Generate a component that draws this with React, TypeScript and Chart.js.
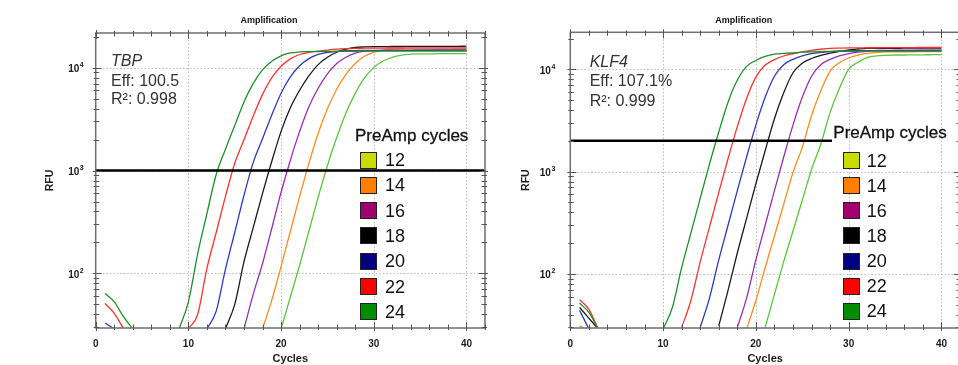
import React, { useEffect, useRef } from 'react';
import { Chart, registerables } from 'chart.js';

Chart.register(...registerables);

// ---------------- data ----------------
const CYCLES = [1, 2, 3, 4, 5, 6, 7, 8, 9, 10, 11, 12, 13, 14, 15, 16, 17, 18, 19, 20, 21, 22, 23, 24, 25, 26, 27, 28, 29, 30, 31, 32, 33, 34, 35, 36, 37, 38, 39, 40];
const PREAMP_CYCLES = ['12', '14', '16', '18', '20', '22', '24'];
const LEGEND_COLORS = ['#c8dc00', '#ff7f00', '#a0006e', '#000000', '#000080', '#ff0000', '#008c00'];
const LINE_COLORS = ['#5cc43c', '#ff8a1e', '#9430b0', '#1a1a1a', '#2a3cb4', '#ff3030', '#1f8f2a'];
const X_MAJOR = [0, 10, 20, 30, 40];
const Y_MAJOR = [100, 1000, 10000];

const TBP_12 = [null, null, null, null, null, null, null, null, null, null, null, null, null, null, null, null, null, null, null, 29, 59, 120, 257, 550, 1120, 2090, 3630, 5620, 7940, 10000, 11600, 12600, 13200, 13500, 13600, 13600, 13650, 13650, 13700, 13700];
const TBP_14 = [null, null, null, null, null, null, null, null, null, null, null, null, null, null, null, null, null, 29, 55, 117, 257, 560, 1175, 2290, 3980, 6170, 8600, 10960, 12900, 14100, 14800, 15100, 15200, 15200, 15220, 15220, 15240, 15240, 15250, 15250];
const TBP_16 = [null, null, null, null, null, null, null, null, null, null, null, null, null, null, null, 29, 63, 125, 275, 615, 1260, 2400, 4170, 6300, 8700, 10960, 12600, 13800, 14450, 14600, 14700, 14700, 14720, 14720, 14740, 14740, 14760, 14760, 14780, 14780];
const TBP_18 = [null, null, null, null, null, null, null, null, null, null, null, null, null, 29, 50, 130, 280, 600, 1230, 2400, 4070, 6030, 8300, 10700, 12600, 14100, 15100, 15700, 15900, 16000, 16000, 16050, 16050, 16080, 16080, 16100, 16100, 16120, 16120, 16150];
const TBP_20 = [33, 29, null, null, null, null, null, null, null, null, null, 29, 43, 110, 250, 575, 1200, 2040, 3470, 5640, 8110, 10420, 12230, 13450, 14100, 14400, 14600, 14650, 14700, 14700, 14720, 14720, 14740, 14740, 14750, 14750, 14760, 14760, 14770, 14770];
const TBP_22 = [51, 41, 29, null, null, null, null, null, null, 29, 40, 112, 250, 560, 1175, 1995, 3390, 5500, 7980, 10300, 12160, 13410, 14060, 14450, 14800, 15100, 15300, 15400, 15450, 15500, 15500, 15520, 15520, 15540, 15540, 15550, 15550, 15560, 15560, 15570];
const TBP_24 = [64, 53, 38, 29, null, null, null, null, 29, 53, 155, 382, 916, 1610, 2735, 4645, 7040, 9500, 11530, 13030, 13880, 14200, 14300, 14350, 14400, 14400, 14420, 14420, 14450, 14450, 14450, 14460, 14460, 14470, 14470, 14480, 14480, 14480, 14490, 14490];

const KLF4_12 = [null, null, null, null, null, null, null, null, null, null, null, null, null, null, null, null, null, null, null, null, 30, 63, 132, 263, 525, 1050, 1860, 3790, 6500, 10000, 11700, 13030, 13500, 13700, 13800, 13800, 13850, 13850, 13900, 13900];
const KLF4_14 = [31, 28, null, null, null, null, null, null, null, null, null, null, null, null, null, null, null, null, 29, 55, 115, 235, 480, 980, 1725, 3530, 6180, 9620, 11600, 12900, 13740, 14300, 14600, 14800, 14800, 14850, 14850, 14900, 14900, 14920];
const KLF4_16 = [null, null, null, null, null, null, null, null, null, null, null, null, null, null, null, null, null, 30, 58, 137, 299, 652, 1388, 2850, 5320, 8550, 11090, 12500, 13520, 14220, 14700, 15000, 15300, 15300, 15350, 15350, 15400, 15400, 15420, 15420];
const KLF4_18 = [47, 37, 29, null, null, null, null, null, null, null, null, null, null, null, null, 31, 69, 160, 349, 761, 1600, 3290, 5890, 9250, 11480, 12760, 13660, 14390, 14960, 15500, 15800, 16000, 16000, 16050, 16050, 16080, 16080, 16100, 16100, 16120];
const KLF4_20 = [44, 29, null, null, null, null, null, null, null, null, null, null, null, 30, 58, 137, 299, 652, 1388, 2850, 5320, 8550, 11090, 12500, 13520, 14220, 14620, 14900, 15100, 15200, 15200, 15220, 15220, 15240, 15240, 15260, 15260, 15280, 15280, 15300];
const KLF4_22 = [56, 45, 29, null, null, null, null, null, null, null, null, 30, 55, 131, 287, 627, 1337, 2750, 5190, 8390, 11000, 12430, 13490, 14190, 14800, 15300, 15700, 16000, 16100, 16200, 16200, 16250, 16250, 16300, 16300, 16320, 16320, 16340, 16340, 16350];
const KLF4_24 = [52, 42, 29, null, null, null, null, null, null, 29, 47, 115, 251, 548, 1182, 2440, 4770, 7850, 10680, 12200, 13360, 14070, 14300, 14500, 14700, 14800, 14900, 15000, 15000, 15020, 15020, 15040, 15040, 15050, 15050, 15060, 15060, 15070, 15070, 15080];

const TBP_THRESHOLD = 1000;
const TBP_THRESHOLD_END = 42;
const KLF4_THRESHOLD = 2000;
const KLF4_THRESHOLD_END = 28.2;

// ---------------- styling / layout ----------------
const FONT = "'Liberation Sans', Arial, Helvetica, sans-serif";

type Panel = {
  gene: string;
  eff: string;
  r2: string;
  series: (number | null)[][];
  threshold: number;
  thresholdEnd: number;
  yMin: number;
  yMax: number;
  canvasLeft: number;
  canvasWidth: number;
  padTop: number;
  padRight: number;
  yAxisWidth: number;
  yTickPad: number;
  yTitlePad: number;
  titleX: number;
  annX: number;
  annY: number[];
  legendTitleX: number;
  legendTitleY: number;
  legendBoxX: number;
  legendLabelX: number;
  legendRow0: number;
  legendStep: number;
};

const PANELS: Panel[] = [
  {
    gene: 'TBP', eff: 'Eff: 100.5', r2: 'R²: 0.998',
    series: [TBP_12, TBP_14, TBP_16, TBP_18, TBP_20, TBP_22, TBP_24],
    threshold: TBP_THRESHOLD, thresholdEnd: TBP_THRESHOLD_END,
    yMin: 29.5, yMax: 21700,
    canvasLeft: 0, canvasWidth: 490, padTop: 33, padRight: 5,
    yAxisWidth: 95.7, yTickPad: 12, yTitlePad: 43.7,
    titleX: 269, annX: 111, annY: [60, 80, 98.7],
    legendTitleX: 355, legendTitleY: 136, legendBoxX: 360, legendLabelX: 385, legendRow0: 160, legendStep: 25.33,
  },
  {
    gene: 'KLF4', eff: 'Eff: 107.1%', r2: 'R²: 0.999',
    series: [KLF4_12, KLF4_14, KLF4_16, KLF4_18, KLF4_20, KLF4_22, KLF4_24],
    threshold: KLF4_THRESHOLD, thresholdEnd: KLF4_THRESHOLD_END,
    yMin: 29.6, yMax: 23000,
    canvasLeft: 490, canvasWidth: 470, padTop: 32.3, padRight: 0,
    yAxisWidth: 80.3, yTickPad: 15, yTitlePad: 29.4,
    titleX: 743.7, annX: 589.7, annY: [61.7, 80.7, 100],
    legendTitleX: 833.3, legendTitleY: 133.3, legendBoxX: 842.7, legendLabelX: 866.7, legendRow0: 160.5, legendStep: 25.13,
  },
];

function makeDecor(tickPad: number) {
  return {
    id: 'axisDecor',
    beforeDatasetsDraw(chart: any) {
      const { ctx, chartArea: a } = chart;
      const xs = chart.scales.x;
      const ys = chart.scales.y;
      ctx.save();
      ctx.strokeStyle = '#b8b8b8';
      ctx.lineWidth = 1;
      ctx.setLineDash([1.5, 2]);
      ctx.beginPath();
      X_MAJOR.forEach((v) => {
        if (v <= 0) return;
        const px = Math.round(xs.getPixelForValue(v)) + 0.5;
        ctx.moveTo(px, a.top);
        ctx.lineTo(px, a.bottom);
      });
      Y_MAJOR.forEach((v) => {
        const py = Math.round(ys.getPixelForValue(v)) + 0.5;
        ctx.moveTo(a.left, py);
        ctx.lineTo(a.right, py);
      });
      ctx.stroke();
      ctx.restore();
    },
    afterDatasetsDraw(chart: any) {
      const { ctx, chartArea: a } = chart;
      const xs = chart.scales.x;
      const ys = chart.scales.y;
      ctx.save();
      ctx.strokeStyle = '#6e6e6e';
      ctx.lineWidth = 1.5;
      ctx.strokeRect(a.left, a.top, a.right - a.left, a.bottom - a.top);
      ctx.lineWidth = 1;
      ctx.strokeStyle = '#555';
      ctx.beginPath();
      for (let v = 0; v <= xs.max + 1e-9; v += 2) {
        const major = v % 10 === 0;
        const px = Math.round(xs.getPixelForValue(v)) + 0.5;
        const inn = major ? 6 : 3.5;
        const out = major ? 3 : 2;
        ctx.moveTo(px, a.bottom + out);
        ctx.lineTo(px, a.bottom - inn);
        ctx.moveTo(px, a.top - out);
        ctx.lineTo(px, a.top + inn);
      }
      for (let e = 1; e <= 4; e++) {
        for (let m = 1; m <= 9; m++) {
          const v = m * Math.pow(10, e);
          if (v < ys.min || v > ys.max) continue;
          const major = m === 1;
          const py = Math.round(ys.getPixelForValue(v)) + 0.5;
          const inn = major ? 6 : 3.5;
          const out = major ? 3 : 2;
          ctx.moveTo(a.left - out, py);
          ctx.lineTo(a.left + inn, py);
          ctx.moveTo(a.right + out, py);
          ctx.lineTo(a.right - inn, py);
        }
      }
      ctx.stroke();
      // y tick labels: 10 with superscript exponent
      ctx.fillStyle = '#1a1a1a';
      ctx.textBaseline = 'alphabetic';
      Y_MAJOR.forEach((v) => {
        const exp = String(Math.round(Math.log10(v)));
        const py = ys.getPixelForValue(v);
        ctx.font = `bold 7px ${FONT}`;
        const ew = ctx.measureText(exp).width;
        ctx.font = `bold 10px ${FONT}`;
        const bw = ctx.measureText('10').width;
        const right = a.left - tickPad;
        ctx.textAlign = 'left';
        ctx.fillText('10', right - ew - bw - 0.5, py + 4.5);
        ctx.font = `bold 7px ${FONT}`;
        ctx.fillText(exp, right - ew, py - 0.5);
      });
      ctx.restore();
    },
  };
}

function makeConfig(p: Panel): any {
  const curves = p.series.map((vals, i) => ({
    label: PREAMP_CYCLES[i],
    data: CYCLES.map((c, j) => ({ x: c, y: vals[j] })),
    borderColor: LINE_COLORS[i],
    borderWidth: 1.3,
    pointRadius: 0,
    cubicInterpolationMode: 'monotone',
    spanGaps: false,
    order: 2,
  }));
  const thresholdLine = {
    label: 'threshold',
    data: [
      { x: 0, y: p.threshold },
      { x: p.thresholdEnd, y: p.threshold },
    ],
    borderColor: '#000',
    borderWidth: 2.6,
    pointRadius: 0,
    order: 0,
  };
  const tickFont = { family: FONT, size: 10, weight: 'bold' };
  return {
    type: 'line',
    data: { datasets: [thresholdLine, ...curves.reverse()] },
    options: {
      responsive: false,
      animation: false,
      devicePixelRatio: 1,
      layout: { padding: { top: p.padTop, right: p.padRight, left: 0, bottom: 0 } },
      plugins: { legend: { display: false }, tooltip: { enabled: false }, title: { display: false } },
      scales: {
        x: {
          type: 'linear',
          min: 0,
          max: 42,
          grid: { display: false },
          border: { display: false },
          ticks: {
            stepSize: 10,
            autoSkip: false,
            maxRotation: 0,
            padding: 2,
            color: '#1a1a1a',
            font: tickFont,
            callback: (v: number) => (v % 10 === 0 && v <= 40 ? String(v) : null),
          },
          title: {
            display: true,
            text: 'Cycles',
            color: '#1a1a1a',
            font: { family: FONT, size: 11, weight: 'bold' },
            padding: { top: 0, bottom: -1 },
          },
          afterFit: (s: any) => {
            s.height = 37;
          },
        },
        y: {
          type: 'logarithmic',
          min: p.yMin,
          max: p.yMax,
          grid: { display: false },
          border: { display: false },
          ticks: {
            autoSkip: false,
            padding: p.yTickPad,
            color: 'rgba(0,0,0,0)',
            font: tickFont,
            callback: () => null,
          },
          title: {
            display: true,
            text: 'RFU',
            color: '#1a1a1a',
            font: { family: FONT, size: 10.5, weight: 'bold' },
            padding: { top: p.yTitlePad, bottom: 0 },
          },
          afterFit: (s: any) => {
            s.width = p.yAxisWidth;
          },
        },
      },
    },
    plugins: [makeDecor(p.yTickPad)],
  };
}

function AmpPanel({ p }: { p: Panel }) {
  const ref = useRef<HTMLCanvasElement | null>(null);
  useEffect(() => {
    if (!ref.current) return;
    const chart = new Chart(ref.current, makeConfig(p));
    return () => chart.destroy();
  }, [p]);

  const abs = (left: number, cy: number, lh: number): React.CSSProperties => ({
    position: 'absolute',
    left,
    top: cy - lh / 2,
    lineHeight: `${lh}px`,
    whiteSpace: 'nowrap',
    fontFamily: FONT,
  });

  return (
    <>
      <canvas
        ref={ref}
        width={p.canvasWidth}
        height={365}
        style={{ position: 'absolute', left: p.canvasLeft, top: 0, width: p.canvasWidth, height: 365 }}
      />
      <div
        style={{
          ...abs(p.titleX, 20, 11),
          transform: 'translateX(-50%)',
          fontSize: 9,
          fontWeight: 'bold',
          color: '#111',
        }}
      >
        Amplification
      </div>
      <div style={{ ...abs(p.annX, p.annY[0], 19), fontSize: 16, fontStyle: 'italic', color: '#333' }}>{p.gene}</div>
      <div style={{ ...abs(p.annX, p.annY[1], 19), fontSize: 16, color: '#333' }}>{p.eff}</div>
      <div style={{ ...abs(p.annX, p.annY[2], 19), fontSize: 16, color: '#333' }}>{p.r2}</div>
      <div style={{ ...abs(p.legendTitleX, p.legendTitleY, 20), fontSize: 17, color: '#111', WebkitTextStroke: '0.3px #111' }}>PreAmp cycles</div>
      {PREAMP_CYCLES.map((lab, i) => {
        const cy = p.legendRow0 + i * p.legendStep;
        return (
          <React.Fragment key={lab}>
            <div
              style={{
                position: 'absolute',
                left: p.legendBoxX,
                top: cy - 8.5,
                width: 17,
                height: 17,
                boxSizing: 'border-box',
                border: '1.5px solid #222',
                background: LEGEND_COLORS[i],
              }}
            />
            <div style={{ ...abs(p.legendLabelX, cy, 20), fontSize: 18, color: '#111' }}>{lab}</div>
          </React.Fragment>
        );
      })}
    </>
  );
}

export default function App() {
  return (
    <div
      style={{
        position: 'absolute',
        left: 0,
        top: 0,
        width: 958,
        height: 365,
        overflow: 'hidden',
        background: '#fff',
      }}
    >
      {PANELS.map((p) => (
        <AmpPanel key={p.gene} p={p} />
      ))}
    </div>
  );
}
